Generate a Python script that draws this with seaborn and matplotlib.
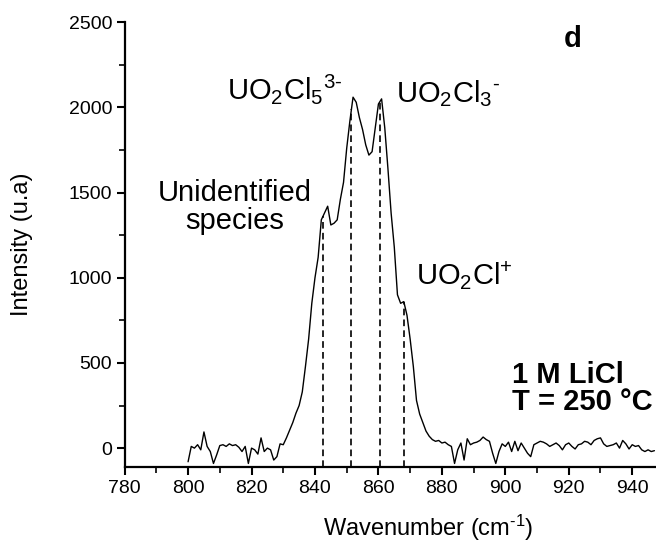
import numpy as np
import pandas as pd
import matplotlib
matplotlib.use("Agg")
import matplotlib.pyplot as plt
import seaborn as sns

# Raman spectrum, 1 M LiCl at 250 °C (1 cm-1 step from 800 to 947 cm-1)
wavenumber = np.arange(800, 948)
intensity = [
    -80, 10, 0, 20, -10, 95, 10, -20, -90, -40,          # 800-809
    15, 20, 10, 25, 15, 20, 5, -20, 10, -90,             # 810-819
    0, -10, -35, 60, -20, 0, -10, -70, -50, 25,          # 820-829
    20, 60, 105, 150, 205, 250, 330, 480, 640, 850,      # 830-839
    1000, 1120, 1340, 1380, 1420, 1310, 1320, 1340, 1460, 1560,  # 840-849
    1760, 1920, 2060, 2030, 1940, 1870, 1780, 1720, 1740, 1880,  # 850-859
    2020, 2050, 1880, 1640, 1380, 1180, 900, 850, 860, 780,      # 860-869
    640, 480, 280, 200, 150, 100, 70, 50, 40, 45,        # 870-879
    30, 35, 20, 10, -90, -10, 30, -70, 55, 20,           # 880-889
    30, 35, 45, 65, 50, 40, -30, -90, -20, 25,           # 890-899
    10, 35, -20, 40, -15, 30, 0, -30, -50, 20,           # 900-909
    30, 40, 35, 25, 10, 20, 30, 15, -10, 20,             # 910-919
    30, 10, -5, 20, 25, 40, 35, 20, 45, 55,              # 920-929
    60, 25, 10, 15, 20, 30, 0, 45, 25, -5,               # 930-939
    20, 10, 15, -10, -20, -10, -20, -15,                 # 940-947
]

# Band positions of the uranyl chloride species
band_positions = [842.5, 851.5, 860.5, 868.0]

species_labels = [
    "Unidentified\nspecies",
    r"UO$_2$Cl$_5{}^{3\text{-}}$",
    r"UO$_2$Cl$_3{}^{\text{-}}$",
    r"UO$_2$Cl$^{+}$",
]

xticks = [780, 800, 820, 840, 860, 880, 900, 920, 940]
yticks = [0, 500, 1000, 1500, 2000, 2500]

sns.set_style("ticks")
plt.rcParams["font.family"] = ["Liberation Sans", "DejaVu Sans"]
plt.rcParams["mathtext.fontset"] = "custom"
plt.rcParams["mathtext.rm"] = "Liberation Sans"
plt.rcParams["mathtext.it"] = "Liberation Sans:italic"
plt.rcParams["mathtext.bf"] = "Liberation Sans:bold"
plt.rcParams["text.color"] = "black"
plt.rcParams["axes.labelcolor"] = "black"

df = pd.DataFrame({"wavenumber": wavenumber, "intensity": intensity})

fig = plt.figure(figsize=(6.56, 5.42), dpi=100)
ax = fig.add_axes([0.19, 0.138, 0.81, 0.821])

sns.lineplot(data=df, x="wavenumber", y="intensity", ax=ax,
             color="black", linewidth=1.0)

ymin, ymax = -112, 2500
ax.set_xlim(780, 947.5)
ax.set_ylim(ymin, ymax)

# dashed markers from the axis up to the spectrum
band_heights = np.interp(band_positions, wavenumber, intensity)
ax.vlines(band_positions, ymin, band_heights, colors="black",
          linestyles=(0, (4, 2.5)), linewidth=1.2)

ax.set_xticks(xticks)
ax.set_yticks(yticks)
ax.set_xticks(np.arange(790, 948, 20), minor=True)
ax.set_yticks(np.arange(250, 2500, 500), minor=True)
ax.tick_params(axis="both", which="major", direction="out", length=6,
               width=1.5, labelsize=14, colors="black", pad=3)
ax.tick_params(axis="both", which="minor", direction="out", length=4,
               width=1.2, colors="black")

for side in ("top", "right"):
    ax.spines[side].set_visible(False)
for side in ("left", "bottom"):
    ax.spines[side].set_linewidth(1.6)
    ax.spines[side].set_color("black")

ax.set_xlabel(r"Wavenumber (cm$^{\text{-}1}$)", fontsize=17)
ax.set_ylabel("Intensity (u.a)", fontsize=17)
ax.xaxis.set_label_coords(0.571, -0.102)
ax.yaxis.set_label_coords(-0.172, 0.5)

# species labels
ax.text(814.7, 1415, species_labels[0], fontsize=21, ha="center",
        va="center", linespacing=1.0)
ax.text(812.2, 2047, species_labels[1], fontsize=21, ha="left",
        va="baseline")
ax.text(865.6, 2030, species_labels[2], fontsize=21, ha="left",
        va="baseline")
ax.text(871.9, 959, species_labels[3], fontsize=21, ha="left",
        va="baseline")

ax.text(921.3, 2400, "d", fontsize=21, fontweight="bold", ha="center",
        va="center")
ax.text(902.2, 382, "1 M LiCl", fontsize=21, fontweight="bold",
        ha="left", va="baseline")
ax.text(902.2, 223, "T = 250 °C", fontsize=21, fontweight="bold",
        ha="left", va="baseline")

fig.savefig("out.png", dpi=100)
